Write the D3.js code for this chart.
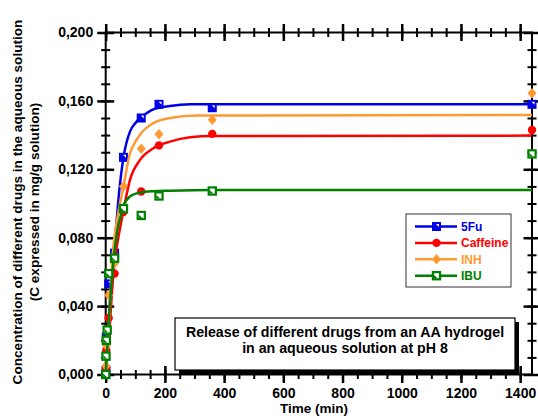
<!DOCTYPE html>
<html>
<head>
<meta charset="utf-8">
<script src="https://cdn.jsdelivr.net/npm/d3@7"></script>
<style>
  html, body { margin: 0; padding: 0; background: #fff; }
  svg { display: block; }
  text { font-family: "Liberation Sans", Arial, sans-serif; font-weight: bold; }
</style>
</head>
<body>
<div id="chart"></div>
<script>
// Measured release (mg/g solution) against time (min) for each drug
const fuTime       = [0, 1, 2, 10, 30, 60, 120, 180, 360, 1440];
const fuValue      = [0, 0.0025, 0.022, 0.053, 0.071, 0.127, 0.150, 0.158, 0.156, 0.158];
const caffeineTime = [1, 2, 10, 30, 60, 120, 180, 360, 1440];
const caffeineValue= [0.004, 0.014, 0.033, 0.059, 0.095, 0.107, 0.134, 0.1407, 0.143];
const inhTime      = [1, 2, 10, 30, 60, 120, 180, 360, 1440];
const inhValue     = [0.0049, 0.017, 0.0464, 0.065, 0.110, 0.132, 0.1405, 0.149, 0.1645];
const ibuTime      = [0, 1, 2, 5, 10, 30, 60, 120, 180, 360, 1440];
const ibuValue     = [0, 0.0107, 0.020, 0.026, 0.059, 0.068, 0.097, 0.093, 0.1044, 0.1073, 0.129];

// Fitted release curves
const fuFitTime        = [0, 10, 26, 34, 45, 60, 82, 100, 116, 140, 161, 217, 285, 1440];
const fuFitValue       = [0, 0.030, 0.071, 0.084, 0.106, 0.127, 0.142, 0.147, 0.150, 0.153, 0.155, 0.157, 0.158, 0.158];
const caffeineFitTime  = [0, 10, 26, 50, 60, 82, 116, 161, 217, 285, 360, 1440];
const caffeineFitValue = [0, 0.020, 0.059, 0.087, 0.096, 0.1138, 0.1255, 0.1323, 0.1362, 0.1388, 0.1395, 0.1397];
const inhFitTime       = [0, 10, 24, 40, 60, 82, 100, 119, 161, 217, 308, 1440];
const inhFitValue      = [0, 0.027, 0.0708, 0.092, 0.110, 0.1294, 0.136, 0.141, 0.147, 0.150, 0.1514, 0.1518];
const ibuFitTime       = [0, 10, 26, 40, 54, 60, 82, 116, 161, 217, 360, 1440];
const ibuFitValue      = [0, 0.030, 0.066, 0.085, 0.095, 0.0986, 0.1041, 0.1064, 0.1072, 0.1075, 0.1079, 0.1079];

// Axis ticks
const xMajorTicks = [0, 200, 400, 600, 800, 1000, 1200, 1400];
const xMinorTicks = d3.range(0, 1441, 50);
const yMajorTicks = [0, 0.04, 0.08, 0.12, 0.16, 0.2];
const yMinorTicks = d3.range(0, 0.2001, 0.01);

const seriesNames  = ["5Fu", "Caffeine", "INH", "IBU"];
const seriesColors = ["#0000e6", "#ff0000", "#ff9933", "#008000"];

const W = 538, H = 418;
const svg = d3.select("#chart").append("svg").attr("width", W).attr("height", H);

const x = d3.scaleLinear().domain([0, 1440]).range([105.7, 532]);
const y = d3.scaleLinear().domain([0, 0.2]).range([374.5, 32.5]);

const comma = d3.formatLocale({ decimal: ",", thousands: ".", grouping: [3], currency: ["", ""] }).format(".3f");

// Frame
svg.append("rect")
  .attr("x", x(0)).attr("y", y(0.2))
  .attr("width", x(1440) - x(0)).attr("height", y(0) - y(0.2))
  .attr("fill", "none").attr("stroke", "#000").attr("stroke-width", 2);

function styleAxis(g) {
  g.select(".domain").remove();
  g.selectAll(".tick line").attr("stroke", "#000").attr("stroke-width", 2);
  g.selectAll("text").attr("fill", "#000").style("font-size", "14px");
}

// Ticks crossing each side of the frame (outer and inner halves)
function crossTicks(axisFn, scale, transform, major, minor, labels, fmt, pad) {
  [1, -1].forEach(dir => {
    const gMin = svg.append("g").attr("transform", transform);
    gMin.call(axisFn(scale).tickValues(minor).tickSize(dir * 4.5).tickFormat(""));
    styleAxis(gMin);
    const gMaj = svg.append("g").attr("transform", transform);
    const ax = axisFn(scale).tickValues(major).tickSize(dir * 8.5);
    ax.tickFormat(labels && dir === 1 ? fmt : "");
    if (labels && dir === 1) ax.tickPadding(pad);
    gMaj.call(ax);
    styleAxis(gMaj);
    gMaj.selectAll(".tick line").attr("stroke-width", 2.5);
  });
}

crossTicks(d3.axisBottom, x, `translate(0,${y(0)})`, xMajorTicks, xMinorTicks, true, d3.format("d"), 5);
crossTicks(d3.axisTop, x, `translate(0,${y(0.2)})`, xMajorTicks, xMinorTicks, false);
crossTicks(d3.axisLeft, y, `translate(${x(0)},0)`, yMajorTicks, yMinorTicks, true, comma, 4);
crossTicks(d3.axisRight, y, `translate(${x(1440)},0)`, yMajorTicks, yMinorTicks, false);

// Axis titles
svg.append("text")
  .attr("x", 314).attr("y", 413).attr("text-anchor", "middle")
  .style("font-size", "13.5px").text("Time (min)");

const yTitle = svg.append("text")
  .attr("transform", "translate(0,202) rotate(-90)")
  .attr("text-anchor", "middle").style("font-size", "13.6px");
yTitle.append("tspan").attr("x", 0).attr("y", 22).text("Concentration of different drugs in the aqueous solution");
yTitle.append("tspan").attr("x", 0).attr("y", 39).text("(C expressed in mg/g solution)");

// Marker painters
function drawMarker(g, kind, color, cx, cy) {
  if (kind === 0) {
    g.append("rect").attr("x", cx - 4.5).attr("y", cy - 4.5).attr("width", 9).attr("height", 9).attr("fill", color);
    g.append("path").attr("d", `M${cx - 0.5},${cy - 2.5}L${cx + 2.5},${cy - 2.5}L${cx + 2.5},${cy + 0.5}Z`).attr("fill", "#fff");
  } else if (kind === 1) {
    g.append("circle").attr("cx", cx).attr("cy", cy).attr("r", 4.2).attr("fill", color);
  } else if (kind === 2) {
    g.append("path").attr("d", `M${cx},${cy - 5.3}L${cx + 4.5},${cy}L${cx},${cy + 5.3}L${cx - 4.5},${cy}Z`).attr("fill", color);
  } else {
    g.append("rect").attr("x", cx - 3.6).attr("y", cy - 3.6).attr("width", 7.2).attr("height", 7.2)
      .attr("fill", "#fff").attr("stroke", color).attr("stroke-width", 2.2);
    g.append("path").attr("d", `M${cx - 2.5},${cy + 2.5}L${cx + 1},${cy + 2.5}L${cx - 2.5},${cy - 1}Z`).attr("fill", color);
  }
}

const series = [
  { t: fuTime, v: fuValue, ft: fuFitTime, fv: fuFitValue },
  { t: caffeineTime, v: caffeineValue, ft: caffeineFitTime, fv: caffeineFitValue },
  { t: inhTime, v: inhValue, ft: inhFitTime, fv: inhFitValue },
  { t: ibuTime, v: ibuValue, ft: ibuFitTime, fv: ibuFitValue }
];

const line = d3.line().x(d => x(d[0])).y(d => y(d[1])).curve(d3.curveMonotoneX);

series.forEach((s, i) => {
  const g = svg.append("g");
  g.append("path")
    .attr("d", line(s.ft.map((t, k) => [t, s.fv[k]])))
    .attr("fill", "none").attr("stroke", seriesColors[i]).attr("stroke-width", 2.5);
  s.t.forEach((t, k) => drawMarker(g, i, seriesColors[i], x(t), y(s.v[k])));
});

// Legend
const lg = svg.append("g");
lg.append("rect").attr("x", 406).attr("y", 214).attr("width", 105).attr("height", 73)
  .attr("fill", "#fff").attr("stroke", "#333").attr("stroke-width", 1);
seriesNames.forEach((name, i) => {
  const ry = 226.5 + i * 16.4;
  lg.append("line").attr("x1", 415).attr("x2", 457).attr("y1", ry).attr("y2", ry)
    .attr("stroke", seriesColors[i]).attr("stroke-width", 2.5);
  drawMarker(lg, i, seriesColors[i], 436.5, ry);
  lg.append("text").attr("x", 461).attr("y", ry + 4.3).attr("fill", seriesColors[i])
    .style("font-size", "12px").text(name);
});

// Caption box with drop shadow
const cap = svg.append("g");
cap.append("rect").attr("x", 179).attr("y", 322).attr("width", 340).attr("height", 52).attr("fill", "#000");
cap.append("rect").attr("x", 175).attr("y", 318).attr("width", 340).attr("height", 52)
  .attr("fill", "#fff").attr("stroke", "#000").attr("stroke-width", 1.2);
cap.append("text").attr("x", 345).attr("y", 337).attr("text-anchor", "middle")
  .style("font-size", "14.2px").text("Release of different drugs from an AA hydrogel");
cap.append("text").attr("x", 345).attr("y", 353).attr("text-anchor", "middle")
  .style("font-size", "14.2px").text("in an aqueous solution at pH 8");
</script>
</body>
</html>
